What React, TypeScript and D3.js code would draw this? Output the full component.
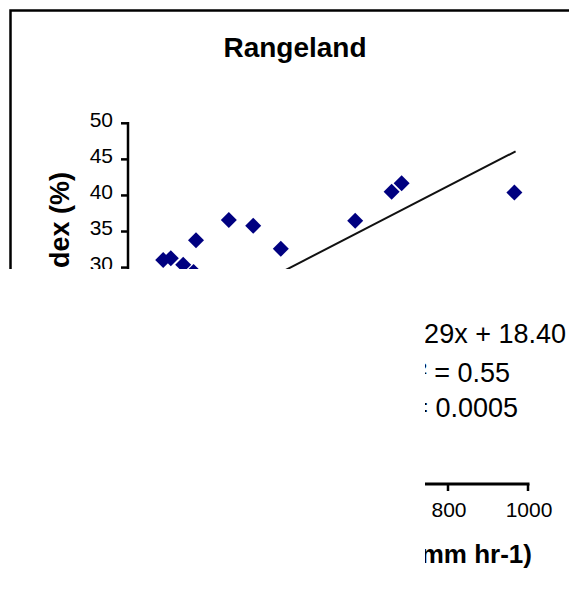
import React from "react";
import * as d3 from "d3";

// ---- data ----
const title = "Rangeland";
const xValues = [88, 107, 138, 164, 170, 252, 313, 382, 568, 659, 684, 966];
const yValues = [31.05, 31.3, 30.4, 29.4, 33.8, 36.6, 35.8, 32.6, 36.5, 40.5, 41.7, 40.4];
const yTicks = [0, 5, 10, 15, 20, 25, 30, 35, 40, 45, 50];
const xTicks = [0, 200, 400, 600, 800, 1000];
const trendSlope = [0.0286];
const trendIntercept = [18.4];
const equationLines = ["y = 0.029x + 18.40", "R² = 0.55", "P = 0.0005"];
const yLabel = "Index (%)";
const xLabel = "(mm hr-1)";

const W = 569;
const H = 601;
const FONT = "'Liberation Sans', Arial, sans-serif";

export default function App() {
  const x = d3.scaleLinear().domain([0, 1000]).range([128, 528]);
  const y = d3.scaleLinear().domain([0, 50]).range([484, 123.3]);
  const points = xValues.map((v, i) => ({ x: v, y: yValues[i] }));
  const xMin = d3.min(xValues) as number;
  const xMax = d3.max(xValues) as number;
  const trend = d3
    .line<number>()
    .x((d) => x(d))
    .y((d) => y(trendSlope[0] * d + trendIntercept[0]));
  const diamond = d3.symbol().type(d3.symbolSquare).size(128)() as string;
  const eqRight = [566, 510, 518];
  const eqBase = [343, 382, 417];

  return (
    <svg
      width={W}
      height={H}
      style={{ position: "absolute", left: 0, top: 0, background: "#fff" }}
      fontFamily={FONT}
    >
      <defs>
        <clipPath id="visible">
          <rect x={0} y={0} width={W} height={269} />
          <rect x={425} y={268} width={W - 425} height={H - 268} />
        </clipPath>
      </defs>
      <rect x={0} y={0} width={W} height={H} fill="#fff" />
      <g clipPath="url(#visible)">
        {/* chart border */}
        <path d={`M10.5,${H + 10} V10.5 H${W + 10}`} fill="none" stroke="#000" strokeWidth={2.5} />
        {/* title */}
        <text x={295} y={57} textAnchor="middle" fontSize={28} fontWeight="bold" fill="#000">
          {title}
        </text>
        {/* y axis */}
        <line x1={x(0)} x2={x(0)} y1={y(50)} y2={y(0)} stroke="#000" strokeWidth={2.5} strokeLinecap="square" />
        {yTicks.map((t) => (
          <g key={"yt" + t}>
            <line x1={x(0) - 7} x2={x(0)} y1={y(t)} y2={y(t)} stroke="#000" strokeWidth={2.5} />
            <text x={113} y={y(t) + 3.5} textAnchor="end" fontSize={21} fill="#000">
              {t}
            </text>
          </g>
        ))}
        <text
          transform={`translate(69,172) rotate(-90)`}
          textAnchor="end"
          fontSize={27}
          fontWeight="bold"
          fill="#000"
        >
          {yLabel}
        </text>
        {/* x axis */}
        <line x1={x(0)} x2={x(1000)} y1={y(0)} y2={y(0)} stroke="#000" strokeWidth={3} strokeLinecap="square" />
        {xTicks.map((t) => (
          <g key={"xt" + t}>
            <line x1={x(t)} x2={x(t)} y1={y(0)} y2={y(0) + 7} stroke="#000" strokeWidth={2.5} />
            <text x={x(t) + 1} y={517} textAnchor="middle" fontSize={21} fill="#000">
              {t}
            </text>
          </g>
        ))}
        <text x={532} y={563} textAnchor="end" fontSize={26} fontWeight="bold" fill="#000">
          {xLabel}
        </text>
        {/* trend line */}
        <path d={trend([xMin, xMax + 3]) as string} fill="none" stroke="#111" strokeWidth={2} />
        {/* points */}
        {points.map((p, i) => (
          <path
            key={"p" + i}
            d={diamond}
            transform={`translate(${x(p.x)},${y(p.y)}) rotate(45)`}
            fill="#000080"
          />
        ))}
        {/* equation */}
        {equationLines.map((s, i) => (
          <text key={"eq" + i} x={eqRight[i]} y={eqBase[i]} textAnchor="end" fontSize={27} fill="#000">
            {s}
          </text>
        ))}
      </g>
    </svg>
  );
}
